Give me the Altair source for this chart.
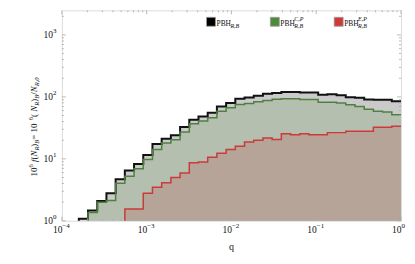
import altair as alt
import pandas as pd
import numpy as np

# ---------------- data ----------------
N_BINS = 35            # histogram bins in ln q, width 0.25, from q = e^-8.75 to q = 1
LN_BIN_WIDTH = 0.25

black_vals = [1.08, 1.46, 2.09, 2.79, 4.68, 6.46, 8.22, 11.5, 17.4, 21.2,
              24.0, 32.7, 42.9, 48.4, 55.6, 70.2, 79.4, 93.3, 97.7, 104.7,
              112, 116, 120, 120, 117.5, 117.5, 108, 110, 106, 99,
              96.6, 90.8, 89.7, 89.7, 85.1]
green_vals = [0, 1.36, 2.0, 2.12, 4.03, 5.25, 6.92, 9.8, 14.1, 18.1,
              20.4, 27.1, 37.0, 40.7, 46.2, 58.9, 66.8, 75.5, 78.5, 83.2,
              87.1, 91.8, 93.3, 93.3, 90.8, 90.8, 82.2, 82.2, 79.4, 74.6,
              70.2, 63.1, 58.9, 56.9, 51.6]
red_vals = [0, 0, 0, 0, 0, 1.55, 1.55, 2.79, 3.47, 4.12,
            5.0, 5.89, 8.61, 8.91, 10.6, 12.3, 14.1, 16.0, 18.7, 20.0,
            21.7, 20.6, 25.5, 24.5, 25.5, 24.5, 24.5, 26.5, 26.5, 27.9,
            27.9, 27.9, 32.4, 32.4, 33.6]

X_MAJOR = [1e-4, 1e-3, 1e-2, 1e-1, 1.0]
X_EXP = ["\u22124", "\u22123", "\u22122", "\u22121", "0"]
X_MINOR = [m * 10.0 ** e for e in range(-4, 0) for m in range(2, 10)]
Y_MAJOR = [1, 10, 100, 1000]
Y_EXP = ["0", "1", "2", "3"]
Y_MINOR = [m * 10 ** e for e in range(0, 3) for m in range(2, 10)] + [2000]

X_DOMAIN = [1e-4, 1.0]
Y_DOMAIN = [1, 2500]

X_TITLE = "q"
# y title: (text, style)  m = main, mi = main italic, b = subscript italic, p = superscript
Y_TITLE_PARTS = [("10", "m"), ("6", "p"), (" ", "m"), ("f", "mi"), ("(", "m"), ("N", "mi"),
                 ("R", "b"), (")", "m"), ("B", "b"), (" = 10", "m"), ("6", "p"),
                 (" (", "m"), ("N", "mi"), ("R", "b"), (")", "m"), ("B", "b"),
                 ("/", "m"), ("N", "mi"), ("R,0", "b")]

edges = [float(np.exp(-LN_BIN_WIDTH * (N_BINS - k))) for k in range(N_BINS + 1)]


def step_path(vals):
    first = next(j for j, v in enumerate(vals) if v > 0)
    rows = [(edges[first], 1.0)]
    for j in range(first, len(vals)):
        rows.append((edges[j], vals[j]))
        rows.append((edges[j + 1], vals[j]))
    return pd.DataFrame({"q": [r[0] for r in rows], "n": [r[1] for r in rows],
                         "i": list(range(len(rows)))})


df_black = step_path(black_vals)
df_green = step_path(green_vals)
df_red = step_path(red_vals)

# ---------------- styling ----------------
W, H = 340, 211
FRAME = "#a3aca3"
FONT = "Liberation Serif"
TXT = "#111111"

X_ENC = alt.X("q:Q", scale=alt.Scale(type="log", domain=X_DOMAIN, nice=False), axis=None)
Y_ENC = alt.Y("n:Q", scale=alt.Scale(type="log", domain=Y_DOMAIN, nice=False), axis=None)


def area(df, color):
    return alt.Chart(df).mark_area(color=color, opacity=1).encode(
        x=X_ENC, y=Y_ENC, y2=alt.datum(1))


def line(df, color, width):
    return alt.Chart(df).mark_line(color=color, strokeWidth=width, strokeJoin="miter").encode(
        x=X_ENC, y=Y_ENC, order="i:Q")


def xticks(vals, size, top):
    d = pd.DataFrame({"q": vals})
    if top:
        enc = dict(y=alt.value(0), y2=alt.value(size))
    else:
        enc = dict(y=alt.value(H), y2=alt.value(H - size))
    return alt.Chart(d).mark_rule(color=FRAME, strokeWidth=0.8).encode(x=X_ENC, **enc)


def yticks(vals, size, right):
    d = pd.DataFrame({"n": vals})
    if right:
        enc = dict(x=alt.value(W), x2=alt.value(W - size))
    else:
        enc = dict(x=alt.value(0), x2=alt.value(size))
    return alt.Chart(d).mark_rule(color=FRAME, strokeWidth=0.8).encode(y=Y_ENC, **enc)


# tick labels "10" + exponent
dfx = pd.DataFrame({"q": X_MAJOR, "e": X_EXP})
dfy = pd.DataFrame({"n": Y_MAJOR, "e": Y_EXP})
x_base = alt.Chart(dfx).mark_text(text="10", font=FONT, fontSize=9.5, align="right",
                                  baseline="middle", color=TXT, dx=0.5).encode(
    x=X_ENC, y=alt.value(H + 9.5))
x_exp = alt.Chart(dfx).mark_text(font=FONT, fontSize=7, align="left",
                                 baseline="middle", color=TXT, dx=0.5).encode(
    x=X_ENC, y=alt.value(H + 5), text="e:N")
y_base = alt.Chart(dfy).mark_text(text="10", font=FONT, fontSize=9.5, align="right",
                                  baseline="middle", color=TXT).encode(
    y=Y_ENC, x=alt.value(-9))
y_exp = alt.Chart(dfy).mark_text(font=FONT, fontSize=7, align="left",
                                 baseline="middle", color=TXT, dy=-4).encode(
    y=Y_ENC, x=alt.value(-9), text="e:N")

one = pd.DataFrame({"a": [0]})

x_title = alt.Chart(one).mark_text(text=X_TITLE, font=FONT, fontSize=10, align="center",
                                   baseline="middle", color=TXT).encode(
    x=alt.value(W / 2), y=alt.value(H + 26))

# rotated y title assembled from pieces (Times-like advance widths in em)
CW = {"0": .5, "1": .5, "6": .5, " ": .25, "f": .278, "(": .333, ")": .333, "N": .667,
      "R": .611, "B": .611, "=": .675, "/": .278, ",": .25}
MAIN_FS, SMALL_FS = 9, 6.5
parts_w = []
for t, s in Y_TITLE_PARTS:
    fs = MAIN_FS if s in ("m", "mi") else SMALL_FS
    parts_w.append(sum(CW.get(c, .5) for c in t) * fs)
total = sum(parts_w)
TITLE_CENTER_Y, TITLE_BASE_X = 117, -25
y_title_layers = []
off = TITLE_CENTER_Y + total / 2
for (t, s), w in zip(Y_TITLE_PARTS, parts_w):
    fs = MAIN_FS if s in ("m", "mi") else SMALL_FS
    xb = TITLE_BASE_X + (2.2 if s == "b" else (-3.8 if s == "p" else 0))
    y_title_layers.append(alt.Chart(one).mark_text(
        text=t, font=FONT, fontSize=fs, angle=270, align="left", baseline="alphabetic",
        fontStyle="italic" if s in ("mi", "b") else "normal", color=TXT).encode(
        x=alt.value(xb), y=alt.value(off)))
    off -= w


def legend_item(xc, color, sup, sub="R,B"):
    layers = [
        alt.Chart(one).mark_square(size=80, filled=True, color=color, opacity=1,
                                   stroke="#999", strokeWidth=0.8).encode(
            x=alt.value(xc), y=alt.value(11.5)),
        alt.Chart(one).mark_text(text="PBH", font=FONT, fontSize=7.5, align="left",
                                 baseline="alphabetic", color=TXT).encode(
            x=alt.value(xc + 5.5), y=alt.value(15.5)),
        alt.Chart(one).mark_text(text=sub, font=FONT, fontSize=6, fontStyle="italic",
                                 align="left", baseline="alphabetic", color=TXT).encode(
            x=alt.value(xc + 19.5), y=alt.value(18)),
    ]
    if sup:
        layers.append(alt.Chart(one).mark_text(text=sup, font=FONT, fontSize=6,
                                               fontStyle="italic", align="left",
                                               baseline="alphabetic", color=TXT).encode(
            x=alt.value(xc + 19.5), y=alt.value(11)))
    return layers


layers = [
    area(df_black, "#cacaca"),
    area(df_green, "#b4bfb0"),
    area(df_red, "#b5a497"),
    line(df_black, "#111111", 2.0),
    line(df_green, "#4f8040", 1.5),
    line(df_red, "#cc3a3a", 1.5),
    xticks(X_MAJOR, 4, False), xticks(X_MINOR, 2, False),
    xticks(X_MAJOR, 4, True), xticks(X_MINOR, 2, True),
    yticks(Y_MAJOR, 4, False), yticks(Y_MINOR, 2, False),
    yticks(Y_MAJOR, 4, True), yticks(Y_MINOR, 2, True),
    x_base, x_exp, y_base, y_exp, x_title,
]
layers += y_title_layers
layers += legend_item(149.5, "#000000", None)
layers += legend_item(213.5, "#4f8a3c", "C,P")
layers += legend_item(277.5, "#cc3a3a", "E,P")

chart = alt.layer(*layers).properties(
    width=W, height=H,
    autosize=alt.AutoSizeParams(type="none"),
    padding={"left": 54, "top": 2, "right": 6, "bottom": 40},
).configure_view(stroke=FRAME, strokeWidth=1.2).configure(background="white")

chart.save("out.html", embed_options={"renderer": "svg", "actions": False})
